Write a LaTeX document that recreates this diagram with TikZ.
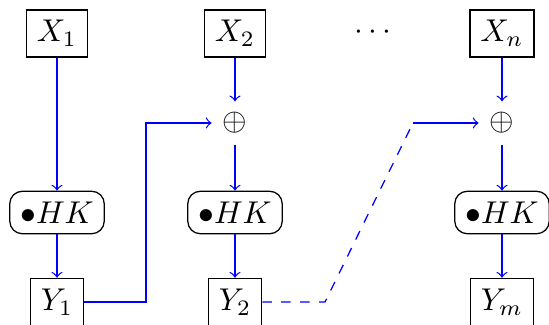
\documentclass[tikz,border=0pt]{standalone}
\usetikzlibrary{calc}
\begin{document}
\begin{tikzpicture}[x=0.3175pt,y=-0.3175pt,
  box/.style={draw,inner sep=3.33pt},
  hkbox/.style={draw,rounded corners=4pt,inner sep=3.33pt,minimum height=13pt},
  conn/.style={blue,->},
  dconn/.style={blue,dashed}]
\useasboundingbox (0,0) rectangle (549,325);
% column 1
\node[box] (x1) at (57,33.5) {$X_1$};
\node[hkbox] (h1) at (57,212.5) {$\bullet H K$};
\node[box] (y1) at (57,302) {$Y_1$};
% column 2
\node[box] (x2) at (235,33.5) {$X_2$};
\node (o2) at (235,123) {$\oplus$};
\node[hkbox] (h2) at (235,212.5) {$\bullet H K$};
\node[box] (y2) at (235,302) {$Y_2$};
% dots
\node (dots) at (373,33) {$\cdots$};
% column n
\node[box] (xn) at (502,33.5) {$X_n$};
\node (on) at (502,123) {$\oplus$};
\node[hkbox] (hn) at (502,212.5) {$\bullet H K$};
\node[box] (ym) at (502,302) {$Y_m$};
% connectors
\draw[conn] (x1) -- (h1);
\draw[conn] (h1) -- (y1);
\draw[conn] (x2) -- (o2);
\draw[conn] (o2) -- (h2);
\draw[conn] (h2) -- (y2);
\draw[conn] (xn) -- (on);
\draw[conn] (on) -- (hn);
\draw[conn] (hn) -- (ym);
\coordinate (c1) at (146,302);
\draw[conn] (y1) -- (c1) |- (o2);
\coordinate (c2) at (325,302);
\coordinate (c3) at (413,123);
\draw[dconn] (y2) -- (c2) -- (c3);
\draw[conn] (c3) -- (on);
\end{tikzpicture}
\end{document}
